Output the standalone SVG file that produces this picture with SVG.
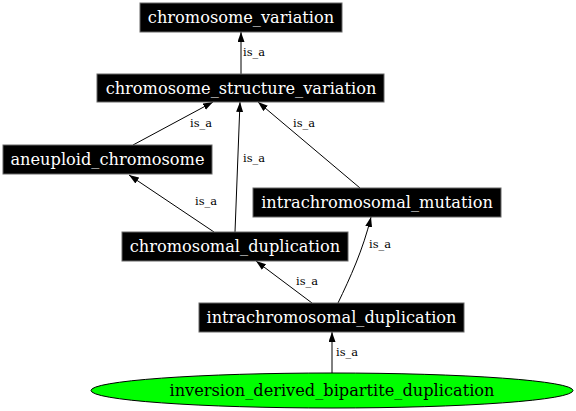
<svg xmlns="http://www.w3.org/2000/svg" width="576" height="411" viewBox="0 0 576 411">
<style>
.box{fill:#000;stroke:#666;stroke-width:1}
.nt{font-family:"DejaVu Serif","Liberation Serif",serif;font-size:16.2px;fill:#fff;text-anchor:middle}
.et{font-family:"DejaVu Serif","Liberation Serif",serif;font-size:11.4px;fill:#000}
.edge{fill:none;stroke:#000;stroke-width:1;marker-end:url(#arr)}
</style>
<defs>
<marker id="arr" markerUnits="userSpaceOnUse" markerWidth="10" markerHeight="8" refX="10" refY="3.5" orient="auto">
<path d="M0,0 L10,3.5 L0,7 z" fill="#000"/>
</marker>
</defs>
<rect width="576" height="411" fill="#fff"/>
<g id="edges">
<line class="edge" x1="241" y1="74" x2="241" y2="32"/>
<text class="et" x="243" y="56">is_a</text>
<line class="edge" x1="133" y1="145" x2="213" y2="102"/>
<text class="et" x="190" y="127">is_a</text>
<line class="edge" x1="235" y1="232" x2="240" y2="102"/>
<text class="et" x="243" y="162">is_a</text>
<line class="edge" x1="360" y1="188" x2="258" y2="102"/>
<text class="et" x="293" y="127">is_a</text>
<line class="edge" x1="214" y1="232" x2="129" y2="175"/>
<text class="et" x="195" y="205">is_a</text>
<line class="edge" x1="312" y1="303" x2="256" y2="261"/>
<text class="et" x="296" y="285">is_a</text>
<path class="edge" d="M338,303 C350,278 363,250 371,217"/>
<text class="et" x="369" y="248">is_a</text>
<line class="edge" x1="332" y1="373" x2="332" y2="332"/>
<text class="et" x="336" y="356">is_a</text>
</g>
<g id="chromosome_variation">
<rect class="box" x="140" y="3" width="202" height="29"/>
<text class="nt" x="241" y="23">chromosome_variation</text>
</g>
<g id="chromosome_structure_variation">
<rect class="box" x="97" y="74" width="287" height="28"/>
<text class="nt" x="241" y="94">chromosome_structure_variation</text>
</g>
<g id="aneuploid_chromosome">
<rect class="box" x="3" y="145" width="209" height="29"/>
<text class="nt" x="107.5" y="165">aneuploid_chromosome</text>
</g>
<g id="intrachromosomal_mutation">
<rect class="box" x="253" y="188" width="248" height="29"/>
<text class="nt" x="377" y="208">intrachromosomal_mutation</text>
</g>
<g id="chromosomal_duplication">
<rect class="box" x="122" y="232" width="226" height="29"/>
<text class="nt" x="235" y="252">chromosomal_duplication</text>
</g>
<g id="intrachromosomal_duplication">
<rect class="box" x="199" y="303" width="265" height="29"/>
<text class="nt" x="331.5" y="323">intrachromosomal_duplication</text>
</g>
<g id="inversion_derived_bipartite_duplication">
<ellipse cx="332" cy="390.5" rx="241" ry="17.5" fill="#00ff00" stroke="#000" stroke-width="1"/>
<text class="nt" x="332" y="396" style="fill:#000">inversion_derived_bipartite_duplication</text>
</g>
</svg>
